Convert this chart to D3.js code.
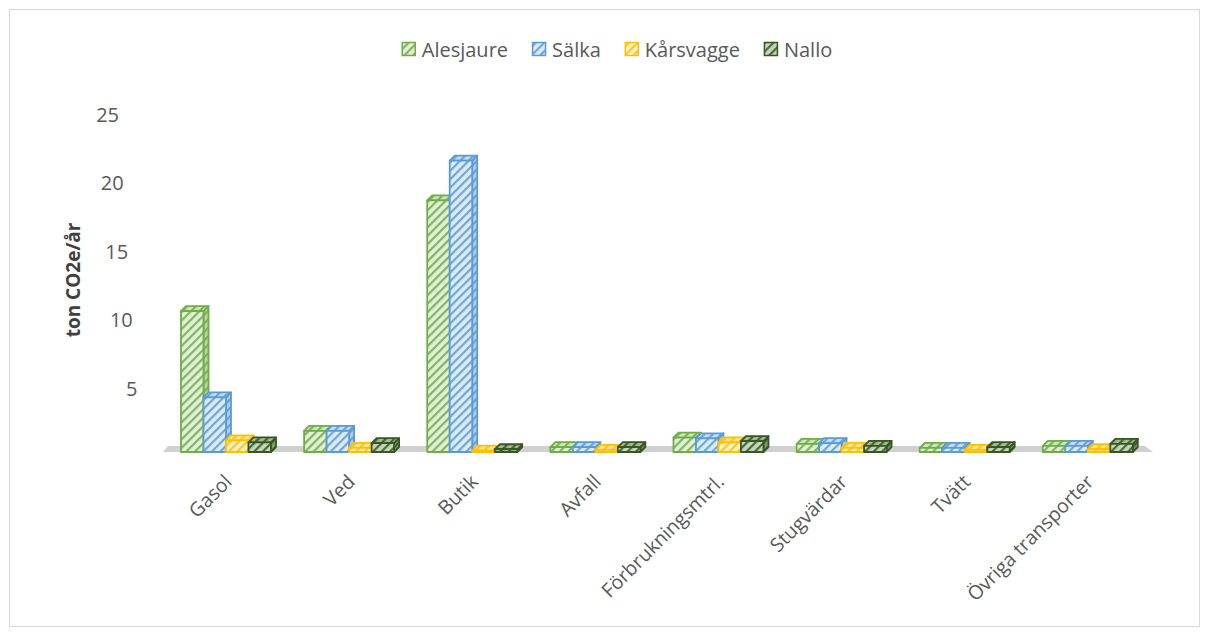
<!DOCTYPE html>
<html><head><meta charset="utf-8">
<script src="https://cdn.jsdelivr.net/npm/d3@7"></script>
<style>
html,body{margin:0;padding:0;background:#fff;}
svg{display:block;font-family:"Open Sans",sans-serif;}
</style></head>
<body><svg id="c" width="1209" height="637"></svg>
<script>
const categories = ["Gasol","Ved","Butik","Avfall","Förbrukningsmtrl.","Stugvärdar","Tvätt","Övriga transporter"];
const seriesNames = ["Alesjaure","Sälka","Kårsvagge","Nallo"];
const alesjaure = [10.3, 1.55, 18.4, 0.35, 1.05, 0.6, 0.3, 0.45];
const salka     = [4.0, 1.55, 21.3, 0.35, 1.0, 0.65, 0.3, 0.45];
const karsvagge = [0.85, 0.3, 0.1, 0.15, 0.7, 0.3, 0.15, 0.2];
const nallo     = [0.7, 0.65, 0.2, 0.35, 0.8, 0.45, 0.35, 0.6];
const yTicks = [5,10,15,20,25];
const seriesValues = [alesjaure, salka, karsvagge, nallo];

const styles = [
  {stroke:"#70AD47", bg:"#E2EFDA", side:"#B9D7A4", top:"#CFE4C0", stripe:"#70AD47"},
  {stroke:"#5B9BD5", bg:"#DDEBF7", side:"#AECCEB", top:"#C6DCF1", stripe:"#5B9BD5"},
  {stroke:"#FFC000", bg:"#FFF2CC", side:"#FFD966", top:"#FFE699", stripe:"#FFC000"},
  {stroke:"#375623", bg:"#C5D6B8", side:"#7F9A6C", top:"#A3BA92", stripe:"#375623"}
];

const svg = d3.select("#c");
const defs = svg.append("defs");
function pat(id,bg,fg){
  const p = defs.append("pattern").attr("id",id).attr("patternUnits","userSpaceOnUse")
    .attr("width",6).attr("height",6).attr("patternTransform","rotate(45)");
  p.append("rect").attr("width",6).attr("height",6).attr("fill",bg);
  p.append("rect").attr("x",0).attr("width",2.2).attr("height",6).attr("fill",fg).attr("opacity",0.85);
}
styles.forEach((s,i)=>{
  pat("pf"+i,s.bg,s.stripe);
  pat("ps"+i,s.side,s.stripe);
  pat("pt"+i,s.top,s.stripe);
});

// chart border
svg.append("rect").attr("x",9.5).attr("y",9.5).attr("width",1190).attr("height",617)
  .attr("fill","none").attr("stroke","#d9d9d9").attr("stroke-width",1);

// scales
const base = 452;
const yBar = d3.scaleLinear().domain([0,25]).range([base, base-342]);
const yAxisS = d3.scaleLinear().domain([0,25]).range([457,115]);
const x0 = d3.scaleBand().domain(categories).range([164.5,1149.3]).paddingInner(0.269).paddingOuter(0.134);
const x1 = d3.scaleBand().domain(seriesNames).range([0,x0.bandwidth()]);
const dx = 5, dy = 5;

// floor
svg.append("polygon").attr("points",[[163,base],[168,base-6],[1145,base-6],[1153,base]].map(p=>p.join(",")).join(" "))
  .attr("fill","#d0d0d0");

// tick labels (perspective offset)
svg.append("g").selectAll("text").data(yTicks).join("text")
  .attr("x",d=>142-d*0.92).attr("y",d=>yAxisS(d)).attr("dy","0.35em")
  .attr("text-anchor","end").attr("font-size",20).attr("fill","#595959").text(d=>d);

// y title
svg.append("text").attr("transform","translate(80,280) rotate(-90)")
  .attr("text-anchor","middle").attr("font-size",19).attr("font-weight","bold").attr("fill","#404040")
  .text("ton CO2e/år");

// bars
const gBars = svg.append("g");
categories.forEach((c,ci)=>{
  seriesNames.forEach((s,si)=>{
    const v = seriesValues[si][ci];
    const x = x0(c)+x1(s), w = x1.bandwidth();
    const yt = yBar(v);
    const st = styles[si];
    const g = gBars.append("g").attr("stroke",st.stroke).attr("stroke-width",1.8).attr("stroke-linejoin","round");
    g.append("polygon").attr("points",[[x+w,yt],[x+w+dx,yt-dy],[x+w+dx,base-dy],[x+w,base]].map(p=>p.join(",")).join(" "))
      .attr("fill",`url(#ps${si})`);
    g.append("polygon").attr("points",[[x,yt],[x+dx,yt-dy],[x+w+dx,yt-dy],[x+w,yt]].map(p=>p.join(",")).join(" "))
      .attr("fill",`url(#pt${si})`);
    g.append("rect").attr("x",x).attr("y",yt).attr("width",w).attr("height",Math.max(0,base-yt))
      .attr("fill",`url(#pf${si})`);
  });
});

// category labels
svg.append("g").selectAll("text").data(categories).join("text")
  .attr("transform",d=>`translate(${x0(d)+x0.bandwidth()/2+7},${483}) rotate(-45)`)
  .attr("text-anchor","end").attr("font-size",19.5).attr("fill","#595959").text(d=>d);

// legend
const leg = svg.append("g");
let items = [];
let tmp = leg.append("g");
seriesNames.forEach((n)=>{
  const t = tmp.append("text").attr("font-size",20).text(n);
  items.push(t.node().getComputedTextLength());
});
tmp.remove();
const total = d3.sum(items.map(w=>14+6+w)) + 24*(items.length-1);
let lx = 617 - total/2;
seriesNames.forEach((n,i)=>{
  const st = styles[i];
  leg.append("rect").attr("x",lx+0.5).attr("y",42.5).attr("width",13).attr("height",13)
    .attr("fill",`url(#pf${i})`).attr("stroke",st.stroke).attr("stroke-width",1.5);
  leg.append("text").attr("x",lx+20).attr("y",57).attr("font-size",20).attr("fill","#595959").text(n);
  lx += 14+6+items[i]+24;
});
</script></body></html>
